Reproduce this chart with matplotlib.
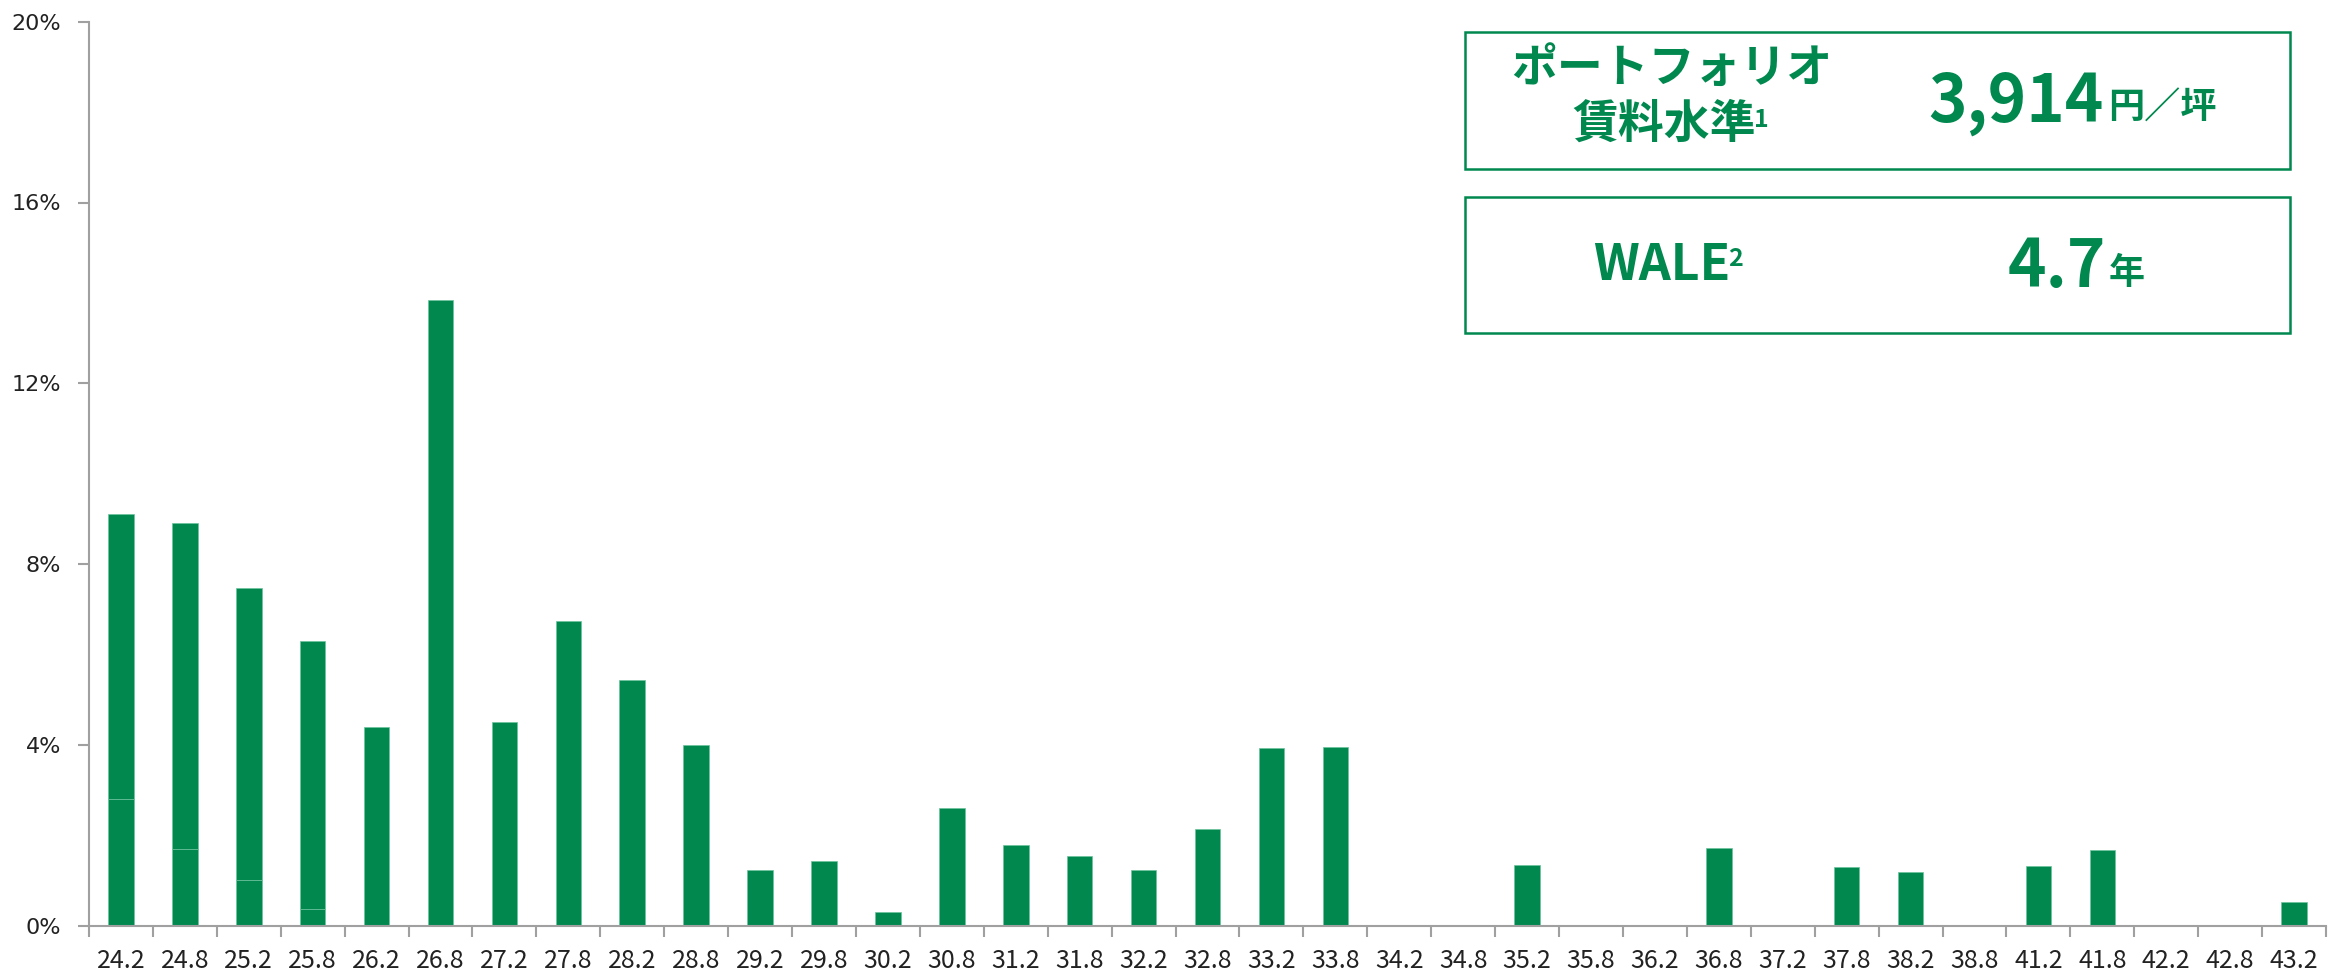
import matplotlib.pyplot as plt
import matplotlib.patches as mpatches
import numpy as np

# rent bands (thousand yen / tsubo) and share of leased area (%)
categories = ["24.2", "24.8", "25.2", "25.8", "26.2", "26.8", "27.2", "27.8", "28.2", "28.8",
              "29.2", "29.8", "30.2", "30.8", "31.2", "31.8", "32.2", "32.8", "33.2", "33.8",
              "34.2", "34.8", "35.2", "35.8", "36.2", "36.8", "37.2", "37.8", "38.2", "38.8",
              "41.2", "41.8", "42.2", "42.8", "43.2"]
share_total = [9.10, 8.92, 7.48, 6.29, 4.40, 13.85, 4.50, 6.75, 5.44, 4.00,
               1.23, 1.43, 0.30, 2.60, 1.78, 1.54, 1.23, 2.14, 3.94, 3.96,
               0.00, 0.00, 1.35, 0.00, 0.00, 1.71, 0.00, 1.29, 1.19, 0.00,
               1.33, 1.67, 0.00, 0.00, 0.52]
# lower segment visible inside the first four bars
share_lower = [2.80, 1.69, 1.01, 0.36] + [0.0] * 31

y_ticks = [0, 4, 8, 12, 16, 20]

rent_label = "ポートフォリオ"
rent_label2 = "賃料水準"
rent_value = "3,914"
rent_unit = "円／坪"
wale_label = "WALE"
wale_value = "4.7"
wale_unit = "年"

GREEN = "#00884F"
EDGE = "#6cc29c"
W, H = 2346, 974
CJK = ["Noto Sans CJK JP", "DejaVu Sans"]


def fx(x):
    return x / W


def fy(y):
    return 1 - y / H


fig = plt.figure(figsize=(W / 100, H / 100), dpi=100)
ax = fig.add_axes([fx(89), fy(925.7), fx(2326) - fx(89), fy(21.7) - fy(925.7)])

x = np.arange(len(categories))
lower = np.array(share_lower)
upper = np.array(share_total) - lower
ax.bar(x, lower, width=0.4, color=GREEN, edgecolor=EDGE, linewidth=0.5)
ax.bar(x, upper, width=0.4, bottom=lower, color=GREEN, edgecolor=EDGE, linewidth=0.5)

ax.set_xlim(-0.5, len(categories) - 0.5)
ax.set_ylim(0, 20)
ax.set_yticks(y_ticks)
ax.set_yticklabels([f"{v}%" for v in y_ticks], fontsize=16, color="#222222", family="DejaVu Sans")
ax.set_xticks(x)
ax.set_xticklabels(categories, fontsize=18, color="#222222", family=CJK)
ax.set_xticks(np.arange(len(categories) + 1) - 0.5, minor=True)
ax.tick_params(axis="x", which="major", length=0, pad=16)
ax.tick_params(axis="x", which="minor", length=8, width=1.5, color="#a0a0a0")
ax.tick_params(axis="y", length=8, width=1.5, color="#a0a0a0", pad=12)

for side in ["top", "right"]:
    ax.spines[side].set_visible(False)
for side in ["left", "bottom"]:
    ax.spines[side].set_color("#a0a0a0")
    ax.spines[side].set_linewidth(1.5)

# summary boxes
for y0, y1 in [(32, 169), (197, 333)]:
    fig.add_artist(mpatches.Rectangle((fx(1465), fy(y1)), fx(2290) - fx(1465), fy(y0) - fy(y1),
                                      transform=fig.transFigure, fill=False,
                                      edgecolor=GREEN, linewidth=1.8))

fig.text(fx(1672), fy(69), rent_label, fontsize=33, fontweight="bold", color=GREEN,
         family=CJK, ha="center", va="center")
fig.text(fx(1756), fy(125), rent_label2, fontsize=33, fontweight="bold", color=GREEN,
         family=CJK, ha="right", va="center")
fig.text(fx(1754), fy(120), "1", fontsize=18, fontweight="bold", color=GREEN,
         family=CJK, ha="left", va="center")
fig.text(fx(2104), fy(122), rent_value, fontsize=47, fontweight="bold", color=GREEN,
         family=CJK, ha="right", va="baseline")
fig.text(fx(2108), fy(119), rent_unit, fontsize=26, fontweight="bold", color=GREEN,
         family=CJK, ha="left", va="baseline")

fig.text(fx(1730), fy(280), wale_label, fontsize=36, fontweight="bold", color=GREEN,
         family=CJK, ha="right", va="baseline")
fig.text(fx(1728), fy(259), "2", fontsize=18, fontweight="bold", color=GREEN,
         family=CJK, ha="left", va="center")
fig.text(fx(2106), fy(287), wale_value, fontsize=47, fontweight="bold", color=GREEN,
         family=CJK, ha="right", va="baseline")
fig.text(fx(2109), fy(284), wale_unit, fontsize=26, fontweight="bold", color=GREEN,
         family=CJK, ha="left", va="baseline")

fig.savefig("out.png", dpi=100)
